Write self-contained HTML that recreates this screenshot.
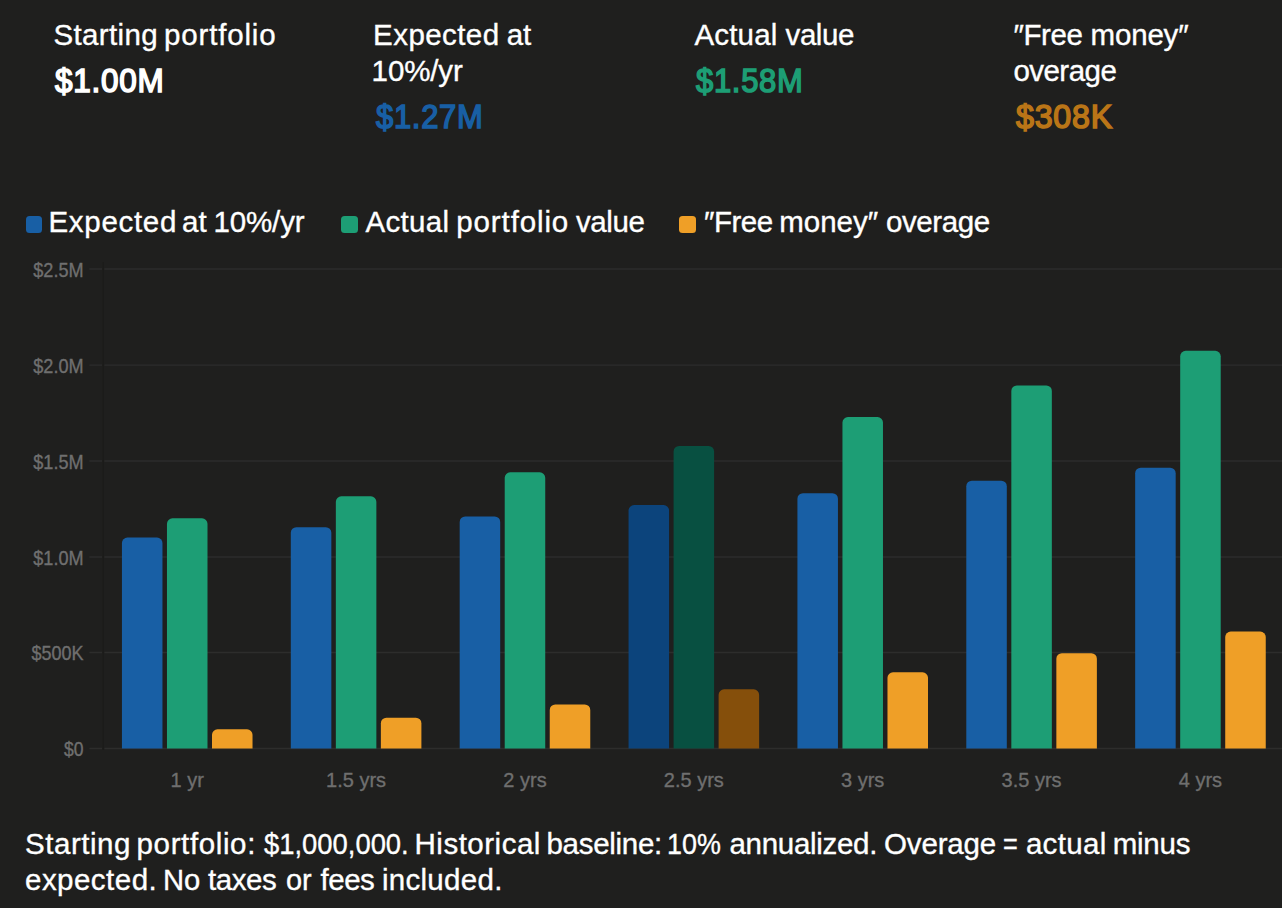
<!DOCTYPE html>
<html><head><meta charset="utf-8"><style>
html,body{margin:0;padding:0;background:#1f1f1e;}
body{width:1282px;height:908px;overflow:hidden;position:relative;font-family:"Liberation Sans",sans-serif;color:#fff;}
.a{position:absolute;white-space:nowrap;line-height:40px;transform-origin:0 0;-webkit-text-stroke-color:#fff;}
.lb{font-size:29.5px;-webkit-text-stroke-width:0.35px;}
.val{font-size:33.8px;-webkit-text-stroke-width:1.6px;}
.sq{position:absolute;width:17px;height:17px;border-radius:3.5px;top:216px;}
svg{position:absolute;left:0;top:0;}
svg text{font-family:"Liberation Sans",sans-serif;fill:#6f6f6f;stroke:#6f6f6f;stroke-width:0.35px;}
.yt{font-size:19.8px;}
.xt{font-size:21px;}
</style></head><body>
<svg width="1282" height="908" viewBox="0 0 1282 908">
<path d="M89.4 748.50H102M104.4 748.50H1282" stroke="#2d2d2c" stroke-width="1.4"/>
<path d="M89.4 652.50H102M104.4 652.50H1282" stroke="#2d2d2c" stroke-width="1.4"/>
<path d="M89.4 557.00H102M104.4 557.00H1282" stroke="#2d2d2c" stroke-width="1.4"/>
<path d="M89.4 461.00H102M104.4 461.00H1282" stroke="#2d2d2c" stroke-width="1.4"/>
<path d="M89.4 365.10H102M104.4 365.10H1282" stroke="#2d2d2c" stroke-width="1.4"/>
<path d="M89.4 269.00H102M104.4 269.00H1282" stroke="#2d2d2c" stroke-width="1.4"/>
<path d="M103.3 262V750" stroke="#1b1b1a" stroke-width="1.2"/>
<text x="83.6" y="756.30" text-anchor="end" class="yt" textLength="19.5" lengthAdjust="spacingAndGlyphs">$0</text>
<text x="83.6" y="660.30" text-anchor="end" class="yt" textLength="52.0" lengthAdjust="spacingAndGlyphs">$500K</text>
<text x="83.6" y="564.80" text-anchor="end" class="yt" textLength="50.3" lengthAdjust="spacingAndGlyphs">$1.0M</text>
<text x="83.6" y="468.80" text-anchor="end" class="yt" textLength="50.3" lengthAdjust="spacingAndGlyphs">$1.5M</text>
<text x="83.6" y="372.90" text-anchor="end" class="yt" textLength="50.3" lengthAdjust="spacingAndGlyphs">$2.0M</text>
<text x="83.6" y="276.80" text-anchor="end" class="yt" textLength="50.3" lengthAdjust="spacingAndGlyphs">$2.5M</text>
<path d="M121.94,748.50V543.02A5.5 5.5 0 0 1 127.44,537.52H156.97A5.5 5.5 0 0 1 162.47,543.02V748.50Z" fill="#185FA5"/>
<path d="M166.97,748.50V523.84A5.5 5.5 0 0 1 172.47,518.34H202.00A5.5 5.5 0 0 1 207.50,523.84V748.50Z" fill="#1D9E75"/>
<path d="M212.00,748.50V734.82A5.5 5.5 0 0 1 217.50,729.32H247.03A5.5 5.5 0 0 1 252.53,734.82V748.50Z" fill="#EF9F27"/>
<text x="187.24" y="786.8" text-anchor="middle" class="xt" textLength="33.3" lengthAdjust="spacingAndGlyphs">1 yr</text>
<path d="M290.81,748.50V532.72A5.5 5.5 0 0 1 296.31,527.22H325.84A5.5 5.5 0 0 1 331.34,532.72V748.50Z" fill="#185FA5"/>
<path d="M335.84,748.50V501.87A5.5 5.5 0 0 1 341.34,496.37H370.87A5.5 5.5 0 0 1 376.37,501.87V748.50Z" fill="#1D9E75"/>
<path d="M380.87,748.50V723.15A5.5 5.5 0 0 1 386.37,717.65H415.90A5.5 5.5 0 0 1 421.40,723.15V748.50Z" fill="#EF9F27"/>
<text x="356.11" y="786.8" text-anchor="middle" class="xt" textLength="60.0" lengthAdjust="spacingAndGlyphs">1.5 yrs</text>
<path d="M459.68,748.50V521.92A5.5 5.5 0 0 1 465.18,516.42H494.71A5.5 5.5 0 0 1 500.21,521.92V748.50Z" fill="#185FA5"/>
<path d="M504.71,748.50V477.81A5.5 5.5 0 0 1 510.21,472.31H539.74A5.5 5.5 0 0 1 545.24,477.81V748.50Z" fill="#1D9E75"/>
<path d="M549.74,748.50V709.89A5.5 5.5 0 0 1 555.24,704.39H584.77A5.5 5.5 0 0 1 590.27,709.89V748.50Z" fill="#EF9F27"/>
<text x="524.98" y="786.8" text-anchor="middle" class="xt" textLength="43.3" lengthAdjust="spacingAndGlyphs">2 yrs</text>
<path d="M628.55,748.50V510.59A5.5 5.5 0 0 1 634.05,505.09H663.58A5.5 5.5 0 0 1 669.08,510.59V748.50Z" fill="#0C447C"/>
<path d="M673.58,748.50V451.45A5.5 5.5 0 0 1 679.08,445.95H708.61A5.5 5.5 0 0 1 714.11,451.45V748.50Z" fill="#085041"/>
<path d="M718.61,748.50V694.85A5.5 5.5 0 0 1 724.11,689.35H753.64A5.5 5.5 0 0 1 759.14,694.85V748.50Z" fill="#854F0B"/>
<text x="693.85" y="786.8" text-anchor="middle" class="xt" textLength="60.0" lengthAdjust="spacingAndGlyphs">2.5 yrs</text>
<path d="M797.42,748.50V498.71A5.5 5.5 0 0 1 802.92,493.21H832.45A5.5 5.5 0 0 1 837.95,498.71V748.50Z" fill="#185FA5"/>
<path d="M842.45,748.50V422.57A5.5 5.5 0 0 1 847.95,417.07H877.48A5.5 5.5 0 0 1 882.98,422.57V748.50Z" fill="#1D9E75"/>
<path d="M887.48,748.50V677.86A5.5 5.5 0 0 1 892.98,672.36H922.51A5.5 5.5 0 0 1 928.01,677.86V748.50Z" fill="#EF9F27"/>
<text x="862.71" y="786.8" text-anchor="middle" class="xt" textLength="43.3" lengthAdjust="spacingAndGlyphs">3 yrs</text>
<path d="M966.29,748.50V486.25A5.5 5.5 0 0 1 971.79,480.75H1001.32A5.5 5.5 0 0 1 1006.82,486.25V748.50Z" fill="#185FA5"/>
<path d="M1011.32,748.50V390.94A5.5 5.5 0 0 1 1016.82,385.44H1046.35A5.5 5.5 0 0 1 1051.85,390.94V748.50Z" fill="#1D9E75"/>
<path d="M1056.35,748.50V658.68A5.5 5.5 0 0 1 1061.85,653.18H1091.38A5.5 5.5 0 0 1 1096.88,658.68V748.50Z" fill="#EF9F27"/>
<text x="1031.59" y="786.8" text-anchor="middle" class="xt" textLength="60.0" lengthAdjust="spacingAndGlyphs">3.5 yrs</text>
<path d="M1135.16,748.50V473.19A5.5 5.5 0 0 1 1140.66,467.69H1170.19A5.5 5.5 0 0 1 1175.69,473.19V748.50Z" fill="#185FA5"/>
<path d="M1180.19,748.50V356.28A5.5 5.5 0 0 1 1185.69,350.78H1215.22A5.5 5.5 0 0 1 1220.72,356.28V748.50Z" fill="#1D9E75"/>
<path d="M1225.22,748.50V637.10A5.5 5.5 0 0 1 1230.72,631.60H1260.25A5.5 5.5 0 0 1 1265.75,637.10V748.50Z" fill="#EF9F27"/>
<text x="1200.45" y="786.8" text-anchor="middle" class="xt" textLength="43.3" lengthAdjust="spacingAndGlyphs">4 yrs</text>
</svg>
<div class="sq" style="left:26px;width:16px;background:#185FA5;"></div>
<div class="sq" style="left:341px;background:#1D9E75;"></div>
<div class="sq" style="left:679px;background:#EF9F27;"></div>
<div class="a lb" style="left:53.4px;top:15.0px;letter-spacing:0.371px;">Starting</div>
<div class="a lb" style="left:164.1px;top:15.0px;letter-spacing:0.825px;">portfolio</div>
<div class="a lb" style="left:373.1px;top:15.0px;letter-spacing:0.429px;">Expected</div>
<div class="a lb" style="left:506.7px;top:15.0px;letter-spacing:-0.2px;">at</div>
<div class="a lb" style="left:371.6px;top:51.0px;letter-spacing:-0.12px;">10%/yr</div>
<div class="a lb" style="left:694.4px;top:15.0px;letter-spacing:0.2px;">Actual</div>
<div class="a lb" style="left:785.6px;top:15.0px;letter-spacing:-0.45px;">value</div>
<div class="a lb" style="left:1013.5px;top:15.0px;letter-spacing:-0.45px;">″Free</div>
<div class="a lb" style="left:1090.6px;top:15.0px;letter-spacing:-0.2px;">money″</div>
<div class="a lb" style="left:1013.4px;top:51.0px;letter-spacing:-0.533px;">overage</div>
<div class="a val" style="left:55.0px;top:60.0px;letter-spacing:0.8px;transform:scaleX(0.9311);">$1.00M</div>
<div class="a val" style="left:375.9px;top:96.0px;letter-spacing:0.8px;transform:scaleX(0.9138);color:#185FA5;-webkit-text-stroke-color:#185FA5;">$1.27M</div>
<div class="a val" style="left:696.3px;top:60.0px;letter-spacing:0.8px;transform:scaleX(0.9138);color:#1D9E75;-webkit-text-stroke-color:#1D9E75;">$1.58M</div>
<div class="a val" style="left:1016.3px;top:96.0px;letter-spacing:0.8px;transform:scaleX(0.9534);color:#BA7517;-webkit-text-stroke-color:#BA7517;">$308K</div>
<div class="a lb" style="left:48.5px;top:202.0px;letter-spacing:0.686px;">Expected</div>
<div class="a lb" style="left:182.1px;top:202.0px;transform:scaleX(1.0009);">at</div>
<div class="a lb" style="left:213.4px;top:202.0px;letter-spacing:-0.12px;">10%/yr</div>
<div class="a lb" style="left:365.5px;top:202.0px;letter-spacing:0.32px;">Actual</div>
<div class="a lb" style="left:456.3px;top:202.0px;letter-spacing:0.875px;">portfolio</div>
<div class="a lb" style="left:575.9px;top:202.0px;letter-spacing:-0.4px;">value</div>
<div class="a lb" style="left:703.9px;top:202.0px;letter-spacing:-0.45px;">″Free</div>
<div class="a lb" style="left:779.3px;top:202.0px;letter-spacing:-0.04px;">money″</div>
<div class="a lb" style="left:886.0px;top:202.0px;letter-spacing:-0.4px;">overage</div>
<div class="a lb" style="left:25.0px;top:824.0px;letter-spacing:0.543px;">Starting</div>
<div class="a lb" style="left:136.6px;top:824.0px;letter-spacing:0.622px;">portfolio:</div>
<div class="a lb" style="left:263.5px;top:824.0px;transform:scaleX(0.9286);">$1,000,000.</div>
<div class="a lb" style="left:414.5px;top:824.0px;letter-spacing:0.511px;">Historical</div>
<div class="a lb" style="left:546.5px;top:824.0px;letter-spacing:-0.3px;">baseline:</div>
<div class="a lb" style="left:666.7px;top:824.0px;transform:scaleX(0.9125);">10%</div>
<div class="a lb" style="left:729.5px;top:824.0px;letter-spacing:-0.3px;">annualized.</div>
<div class="a lb" style="left:884.1px;top:824.0px;letter-spacing:-0.167px;">Overage</div>
<div class="a lb" style="left:1003.3px;top:824.0px;transform:scaleX(0.8555);">=</div>
<div class="a lb" style="left:1025.9px;top:824.0px;letter-spacing:0.32px;">actual</div>
<div class="a lb" style="left:1112.7px;top:824.0px;letter-spacing:-0.25px;">minus</div>
<div class="a lb" style="left:25.0px;top:860.0px;letter-spacing:0.475px;">expected.</div>
<div class="a lb" style="left:162.6px;top:860.0px;transform:scaleX(0.9905);">No</div>
<div class="a lb" style="left:207.9px;top:860.0px;letter-spacing:-0.4px;">taxes</div>
<div class="a lb" style="left:285.8px;top:860.0px;transform:scaleX(0.9809);">or</div>
<div class="a lb" style="left:320.6px;top:860.0px;letter-spacing:-0.533px;">fees</div>
<div class="a lb" style="left:381.9px;top:860.0px;letter-spacing:0.3px;">included.</div>
</body></html>
